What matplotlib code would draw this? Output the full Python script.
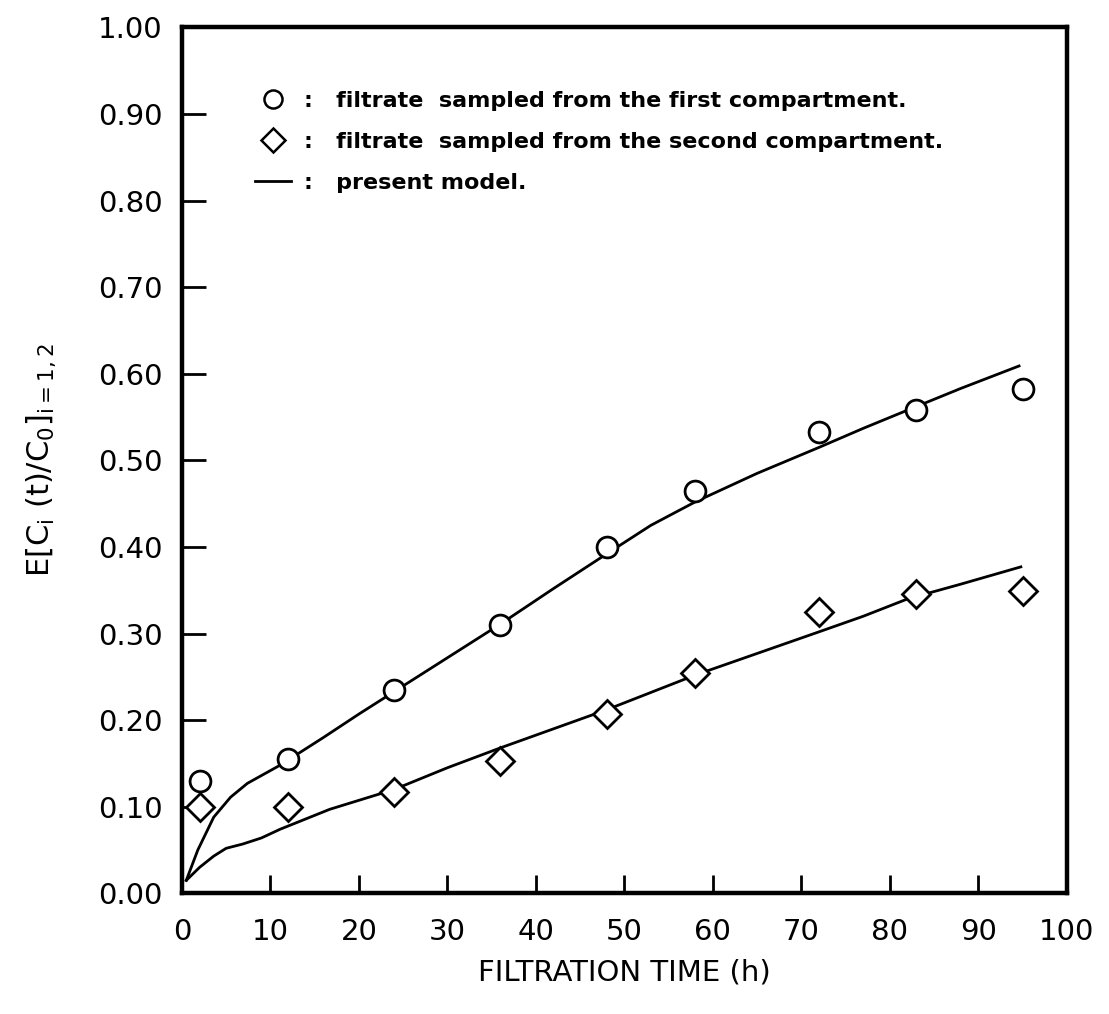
import matplotlib
matplotlib.use("Agg")
import matplotlib.pyplot as plt
from matplotlib.lines import Line2D

plt.rcParams['font.family'] = ['DejaVu Sans']
plt.rcParams['mathtext.default'] = 'regular'

# measured data
time_circle = [2, 12, 24, 36, 48, 58, 72, 83, 95]
conc_first = [0.13, 0.155, 0.235, 0.31, 0.40, 0.465, 0.533, 0.558, 0.582]
time_diamond = [2, 12, 24, 36, 48, 58, 72, 83, 95]
conc_second = [0.10, 0.10, 0.117, 0.153, 0.207, 0.255, 0.325, 0.346, 0.349]

# model curves
model1_t = [0.5, 1.8, 3.6, 5.5, 7.4, 11.1, 16, 20, 24, 30, 36, 42, 48, 53, 58, 65, 72, 77, 82, 88, 94.6]
model1_c = [0.015, 0.05, 0.088, 0.111, 0.127, 0.148, 0.18, 0.207, 0.233, 0.272, 0.311, 0.352, 0.392,
            0.425, 0.452, 0.485, 0.515, 0.537, 0.558, 0.583, 0.609]
model2_t = [0.5, 2, 3.6, 5, 6.9, 9, 11.1, 16.7, 24, 30, 36, 42, 48, 53, 58, 65, 72, 77, 82, 88, 94.8]
model2_c = [0.015, 0.03, 0.043, 0.052, 0.057, 0.064, 0.074, 0.097, 0.12, 0.145, 0.168, 0.19, 0.212,
            0.232, 0.252, 0.277, 0.302, 0.32, 0.34, 0.357, 0.377]

xticks = [0, 10, 20, 30, 40, 50, 60, 70, 80, 90, 100]
yticks = [0.0, 0.1, 0.2, 0.3, 0.4, 0.5, 0.6, 0.7, 0.8, 0.9, 1.0]
legend_labels = [":   filtrate  sampled from the first compartment.",
                 ":   filtrate  sampled from the second compartment.",
                 ":   present model."]

fig = plt.figure(figsize=(11.09, 10.14), dpi=100)
ax = fig.add_axes([0.164, 0.119, 0.798, 0.854])

ax.plot(model1_t, model1_c, color='black', lw=2.0)
ax.plot(model2_t, model2_c, color='black', lw=2.0)
ax.plot(time_circle, conc_first, linestyle='none', marker='o', markersize=15,
        markerfacecolor='white', markeredgecolor='black', markeredgewidth=2.0)
ax.plot(time_diamond, conc_second, linestyle='none', marker='D', markersize=14,
        markerfacecolor='white', markeredgecolor='black', markeredgewidth=2.0)

ax.set_xlim(0, 100)
ax.set_ylim(0, 1.0)
ax.set_xticks(xticks)
ax.set_xticklabels([str(v) for v in xticks])
ax.set_yticks(yticks)
ax.set_yticklabels([f"{v:.2f}" for v in yticks])
ax.tick_params(axis='x', direction='in', length=13, width=2, labelsize=21, pad=18)
ax.tick_params(axis='y', direction='in', length=17, width=2, labelsize=21, pad=14)
for name, sp in ax.spines.items():
    sp.set_linewidth(3.2)

ax.set_xlabel("FILTRATION TIME (h)", fontsize=21)
ax.xaxis.set_label_coords(0.5, -0.075)
ax.set_ylabel(r"E[C$_i$ (t)/C$_0$]$_{i=1,2}$", fontsize=22)
ax.yaxis.set_label_coords(-0.14, 0.5)

handles = [
    Line2D([], [], linestyle='none', marker='o', markersize=13, markerfacecolor='white',
           markeredgecolor='black', markeredgewidth=1.8),
    Line2D([], [], linestyle='none', marker='D', markersize=12, markerfacecolor='white',
           markeredgecolor='black', markeredgewidth=1.8),
    Line2D([], [], color='black', lw=2.0),
]
ax.legend(handles, legend_labels, loc='upper left', bbox_to_anchor=(0.06, 0.95),
          frameon=False, handlelength=1.6, handletextpad=0.6, labelspacing=0.95,
          prop={'weight': 'bold', 'size': 16})

fig.savefig("out.png", dpi=100)
